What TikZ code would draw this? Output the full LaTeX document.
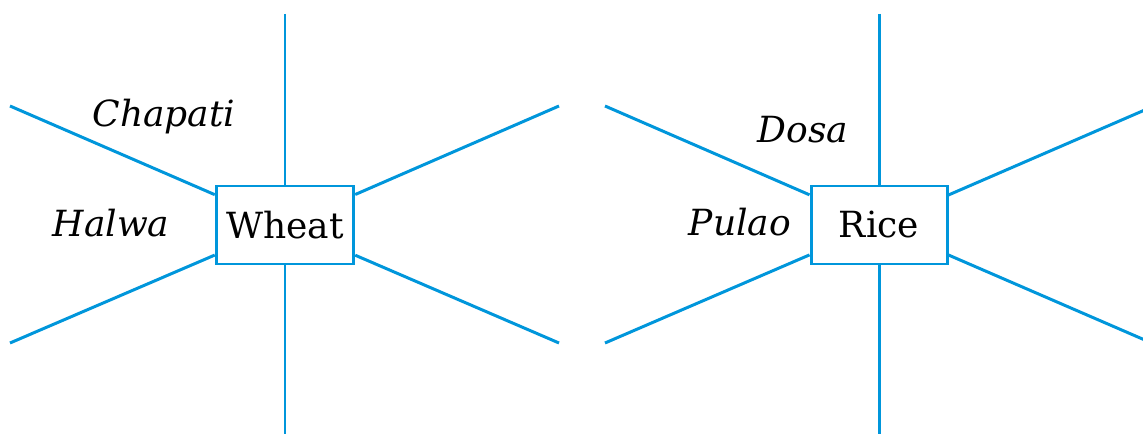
\documentclass[tikz,border=0pt]{standalone}
\usepackage{fontspec}
\setmainfont{DejaVu Serif}
\definecolor{spoke}{RGB}{0,150,219}

\begin{document}
\begin{tikzpicture}[x=0.2mm,y=-0.2mm]
  \tikzset{grain/.style={shape=rectangle,draw=spoke,line width=1.7pt,
                         minimum width=2.75cm,minimum height=1.56cm,font=\fontsize{20.5}{24}\selectfont},
           dish/.style={font=\fontsize{20.5}{24}\selectfont\itshape},
           spokeline/.style={draw=spoke,line width=1.7pt}}
  \useasboundingbox (0,0) rectangle (1143,434);

  % left web
  \node (wheat) at (285,225) [grain] {Wheat};
  \coordinate (w1) at (285,14);
  \coordinate (w2) at (285,440);
  \coordinate (w3) at (10,106);
  \coordinate (w4) at (10,343);
  \coordinate (w5) at (559,106);
  \coordinate (w6) at (559,343);
  \foreach \c in {w1,w2,w3,w4,w5,w6}
    \draw [spokeline] (\c) -- (wheat);

  \node (chapati) at (164,117) [dish] {Chapati};
  \node (halwa) at (111,223) [dish] {Halwa};

  % right web
  \node (rice) at (879,225) [grain,minimum width=2.72cm] {Rice};
  \coordinate (r1) at (879,14);
  \coordinate (r2) at (879,440);
  \coordinate (r3) at (605,106);
  \coordinate (r4) at (605,343);
  \coordinate (r5) at (1154,106);
  \coordinate (r6) at (1154,344);
  \foreach \c in {r1,r2,r3,r4,r5,r6}
    \draw [spokeline] (\c) -- (rice);

  \node (dosa) at (803,130) [dish] {Dosa};
  \node (pulao) at (740,222) [dish] {Pulao};
\end{tikzpicture}
\end{document}
